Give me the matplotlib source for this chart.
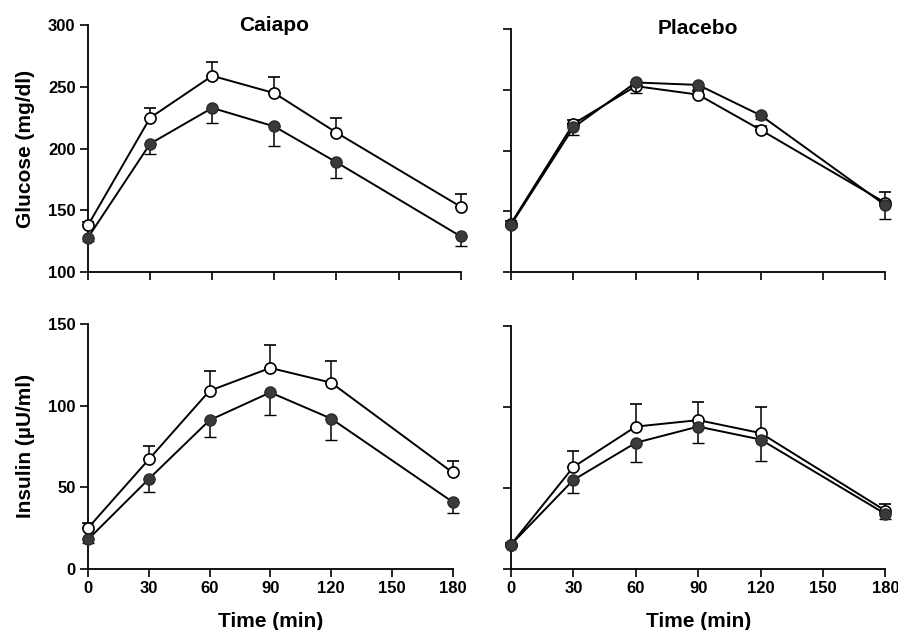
import numpy as np
import matplotlib
matplotlib.use("Agg")
import matplotlib.pyplot as plt

plt.rcParams['font.family'] = ['Liberation Sans', 'DejaVu Sans']

# tempo (min)
tempo = [0, 30, 60, 90, 120, 180]

# glicose - Caiapo
glic_caiapo_aberto = [138, 225, 259, 245, 213, 153]
glic_caiapo_aberto_err = [3, 8, 11, 13, 12, 10]
glic_caiapo_cheio = [128, 204, 233, 218, 189, 129]
glic_caiapo_cheio_err = [3, 8, 12, 16, 13, 8]

# glicose - Placebo
glic_placebo_aberto = [140, 222, 253, 246, 217, 157]
glic_placebo_aberto_err = [2, 3, 3, 3, 3, 9]
glic_placebo_cheio = [139, 219, 256, 254, 229, 155]
glic_placebo_cheio_err = [2, 6, 9, 3, 3, 11]

# insulina - Caiapo
ins_caiapo_aberto = [25, 67, 109, 123, 114, 59]
ins_caiapo_aberto_err = [3, 8, 12, 14, 13, 7]
ins_caiapo_cheio = [18, 55, 91, 108, 92, 41]
ins_caiapo_cheio_err = [2, 8, 10, 14, 13, 7]

# insulina - Placebo
ins_placebo_aberto = [15, 63, 88, 92, 84, 36]
ins_placebo_aberto_err = [1, 10, 14, 11, 16, 4]
ins_placebo_cheio = [15, 55, 78, 88, 80, 34]
ins_placebo_cheio_err = [1, 8, 12, 10, 13, 3]

fig = plt.figure(figsize=(8.98, 6.30), dpi=100)

posicoes = {
    (0, 0): [0.098, 0.568, 0.415, 0.392],
    (0, 1): [0.569, 0.568, 0.417, 0.386],
    (1, 0): [0.098, 0.097, 0.406, 0.389],
    (1, 1): [0.569, 0.097, 0.417, 0.385],
}

dados = {
    (0, 0): (glic_caiapo_aberto, glic_caiapo_aberto_err, glic_caiapo_cheio, glic_caiapo_cheio_err),
    (0, 1): (glic_placebo_aberto, glic_placebo_aberto_err, glic_placebo_cheio, glic_placebo_cheio_err),
    (1, 0): (ins_caiapo_aberto, ins_caiapo_aberto_err, ins_caiapo_cheio, ins_caiapo_cheio_err),
    (1, 1): (ins_placebo_aberto, ins_placebo_aberto_err, ins_placebo_cheio, ins_placebo_cheio_err),
}

for (lin, col), pos in posicoes.items():
    ax = fig.add_axes(pos)
    aberto, aberto_err, cheio, cheio_err = dados[(lin, col)]
    zeros = np.zeros(len(tempo))

    # circulos abertos: barra de erro para cima
    ax.errorbar(tempo, aberto, yerr=[zeros, aberto_err], color='black', lw=1.4,
                marker='o', ms=8, mfc='white', mec='black', mew=1.2,
                ecolor='black', elinewidth=1.1, capsize=4, capthick=1.1,
                clip_on=False, zorder=3)
    # circulos cheios: barra de erro para baixo
    ax.errorbar(tempo, cheio, yerr=[cheio_err, zeros], color='black', lw=1.4,
                marker='o', ms=8, mfc='#3a3a3a', mec='#2a2a2a', mew=1.0,
                ecolor='black', elinewidth=1.1, capsize=4, capthick=1.1,
                clip_on=False, zorder=4)

    ax.set_xlim(0, 180)
    ax.set_xticks([0, 30, 60, 90, 120, 150, 180])
    if lin == 0:
        ax.set_ylim(100, 300)
        ax.set_yticks([100, 150, 200, 250, 300])
        ax.set_xticklabels([])
        ax.text(0.5, 1.0, 'Caiapo' if col == 0 else 'Placebo', transform=ax.transAxes,
                ha='center', va='center', fontsize=15, fontweight='bold')
        if col == 0:
            ax.set_ylabel('Glucose (mg/dl)', fontsize=15, fontweight='bold', labelpad=9)
    else:
        ax.set_ylim(0, 150)
        ax.set_yticks([0, 50, 100, 150])
        ax.set_xlabel('Time (min)', fontsize=15, fontweight='bold', labelpad=11)
        if col == 0:
            ax.set_ylabel('Insulin (\u00b5U/ml)', fontsize=15, fontweight='bold', labelpad=9)

    if col == 1:
        ax.set_yticklabels([])

    for lado in ['top', 'right']:
        ax.spines[lado].set_visible(False)
    for lado in ['left', 'bottom']:
        ax.spines[lado].set_linewidth(1.3)

    ax.tick_params(direction='out', length=6, width=1.2, labelsize=12, pad=3)
    for rotulo in ax.get_xticklabels() + ax.get_yticklabels():
        rotulo.set_fontweight('bold')

fig.savefig('out.png', dpi=100, facecolor='white')
